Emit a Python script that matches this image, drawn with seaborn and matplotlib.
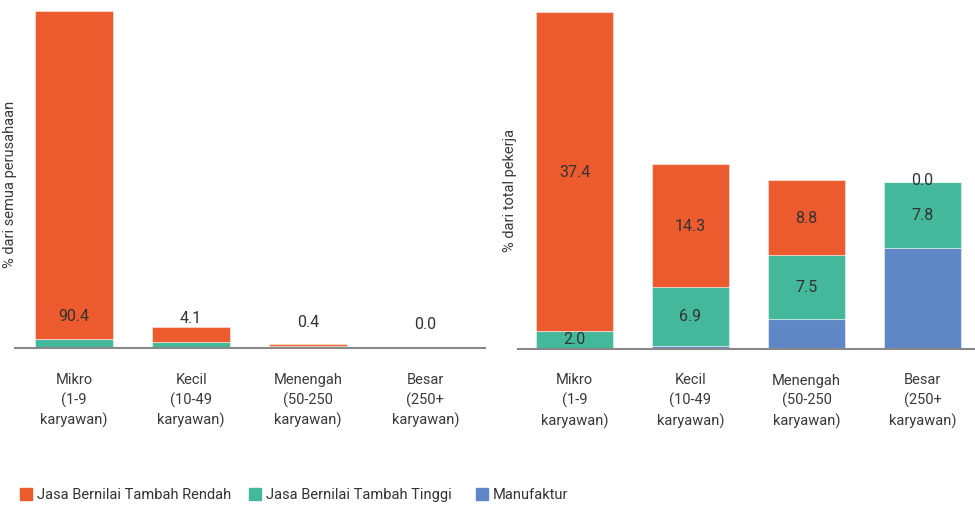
import matplotlib
matplotlib.use("Agg")
import matplotlib.pyplot as plt
import matplotlib.patches as mpatches
import seaborn as sns
import numpy as np

sns.set_style("white")
plt.rcParams['font.family'] = ['Roboto', 'DejaVu Sans']

categories = ["Mikro\n(1-9\nkaryawan)", "Kecil\n(10-49\nkaryawan)",
              "Menengah\n(50-250\nkaryawan)", "Besar\n(250+\nkaryawan)"]
series = ["Jasa Bernilai Tambah Rendah", "Jasa Bernilai Tambah Tinggi", "Manufaktur"]
colors = ["#EC5B2D", "#43B89B", "#5F87C5"]

# % dari semua perusahaan
firms_rendah = [90.4, 4.1, 0.4, 0.0]
firms_tinggi = [2.5, 1.7, 0.5, 0.2]
firms_manuf = [0.0, 0.0, 0.1, 0.1]

# % dari total pekerja
workers_rendah = [37.4, 14.3, 8.8, 0.0]
workers_tinggi = [2.0, 6.9, 7.5, 7.8]
workers_manuf = [0.0, 0.35, 3.4, 11.7]

fig = plt.figure(figsize=(9.75, 5.08), dpi=100)
W, H = 975, 508
ax1 = fig.add_axes([15 / W, (H - 348) / H, 470 / W, 340 / H])
ax2 = fig.add_axes([518 / W, (H - 348.5) / H, 457 / W, 340 / H])


def stack(ax, manuf, tinggi, rendah):
    b = np.zeros(len(categories))
    for vals, c in zip([manuf, tinggi, rendah], [colors[2], colors[1], colors[0]]):
        sns.barplot(x=categories, y=vals, bottom=b, color=c, width=0.665,
                    edgecolor=(1, 1, 1, 0.45), linewidth=0.8, ax=ax, saturation=1)
        b = b + np.array(vals)
    return b


stack(ax1, firms_manuf, firms_tinggi, firms_rendah)
stack(ax2, workers_manuf, workers_tinggi, workers_rendah)

txt = dict(ha="center", va="center", fontsize=11.5, color="#333333")
for i, v in enumerate(firms_rendah):
    ax1.text(i, firms_manuf[i] + firms_tinggi[i] + 6.3, f"{v:.1f}", **txt)

for i in range(len(categories)):
    base = workers_manuf[i]
    t = workers_tinggi[i]
    r = workers_rendah[i]
    ax2.text(i, base + t / 2, f"{t:.1f}", **txt)
    ax2.text(i, base + t + r / 2 - (0.1 if r > 0 else -0.2), f"{r:.1f}", **txt)

ax1.set_xlim(-0.504, 3.51)
ax1.set_ylim(0, 340 / 3.63)
ax2.set_xlim(-0.487, 3.453)
ax2.set_ylim(0, 340 / 8.55)

for ax in (ax1, ax2):
    sns.despine(ax=ax, left=True)
    ax.spines['bottom'].set_color("#888888")
    ax.spines['bottom'].set_linewidth(1.5)
    ax.set_yticks([])
    ax.tick_params(axis='x', length=0, pad=18, labelsize=10.5, colors="#3a3a3a")
    for t in ax.get_xticklabels():
        t.set_linespacing(1.45)

fig.text(10 / W, 1 - 184 / H, "% dari semua perusahaan", rotation=90, ha="center",
         va="center", fontsize=10.5, color="#3a3a3a")
fig.text(510 / W, 1 - 190 / H, "% dari total pekerja", rotation=90, ha="center",
         va="center", fontsize=10.5, color="#3a3a3a")

# one legend entry per position, as in the reference
for c, s, x0 in zip(colors, series, [14, 243, 470]):
    fig.legend(handles=[mpatches.Patch(color=c, label=s)], loc="center left",
               bbox_to_anchor=(x0 / W, 1 - 495 / H), frameon=False, fontsize=10.5,
               handlelength=0.85, handleheight=0.85, handletextpad=0.3,
               borderaxespad=0, labelcolor="#333333")

fig.savefig("out.png", dpi=100)
